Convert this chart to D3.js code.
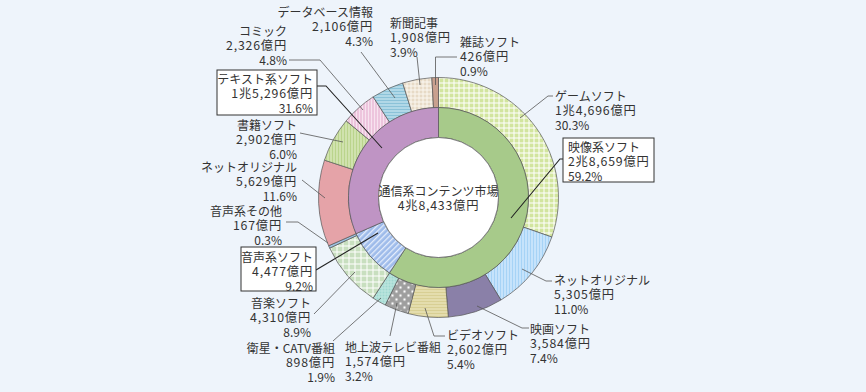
<!DOCTYPE html>
<html><head><meta charset="utf-8">
<script src="https://cdn.jsdelivr.net/npm/d3@7"></script>
<style>
html,body{margin:0;padding:0;background:#eef4fb;}
svg{display:block;}
text{font-family:"Noto Sans CJK JP","Noto Sans",sans-serif;font-size:12px;fill:#333;}
.num{font-size:12.3px;letter-spacing:0.8px;}
</style></head>
<body>
<svg id="c" width="866" height="392"></svg>
<script>
// ---- data ----
const innerNames = ["映像系ソフト", "音声系ソフト", "テキスト系ソフト"];
const innerValues = [28659, 4477, 15296];
const innerPct = [59.2, 9.2, 31.6];

const outerNames = ["ゲームソフト", "ネットオリジナル", "映画ソフト", "ビデオソフト", "地上波テレビ番組", "衛星・CATV番組",
  "音楽ソフト", "音声系その他",
  "ネットオリジナル", "書籍ソフト", "コミック", "データベース情報", "新聞記事", "雑誌ソフト"];
const outerValues = [14696, 5305, 3584, 2602, 1574, 898, 4310, 167, 5629, 2902, 2326, 2106, 1908, 426];
const outerPct = [30.3, 11.0, 7.4, 5.4, 3.2, 1.9, 8.9, 0.3, 11.6, 6.0, 4.8, 4.3, 3.9, 0.9];

const centerTitle = "通信系コンテンツ市場";
const totalValue = 48433;

// ---- styles / layout ----
const outerFills = ["url(#pGame)", "url(#pNetV)", "#8a80a8", "url(#pVideo)", "url(#pTerr)", "url(#pSat)",
  "url(#pMusic)", "#9ec3e3", "#e5a3a8", "url(#pBook)", "url(#pComic)", "url(#pDb)", "url(#pNews)", "#c9a08f"];
const innerFills = ["#a7ca8a", "url(#pAudio)", "#bf94c4"];

const outerLabelLayout = [
  {x:555, y:101, a:"start", pts:[[553,96],[548,96],[520,118]]},
  {x:554, y:285, a:"start", pts:[[552,281],[546,281],[522,269]]},
  {x:530, y:334, a:"start", pts:[[529,328],[522,328],[477,306]]},
  {x:447, y:340, a:"start", pts:[[445,336],[434,336],[425,308]]},
  {x:345, y:352, a:"start", pts:[[390,336],[397,303]]},
  {x:335, y:353, a:"end", pts:[[333,341],[381,298]]},
  {x:311, y:308, a:"end", pts:[[314,314],[355,272]]},
  {x:282, y:216, a:"end", pts:[[286,222],[298,222],[328,243]]},
  {x:297, y:172, a:"end", pts:[[302,180],[325,198]]},
  {x:297, y:130, a:"end", pts:[[300,133],[343,142]]},
  {x:287, y:36, a:"end", pts:[[289,60],[320,60],[363,110]]},
  {x:373, y:17, a:"end", pts:[[361,52],[395,98]]},
  {x:390, y:28, a:"start", pts:[[417,57],[420,85]]},
  {x:460, y:47, a:"start", pts:[[457,57],[435.5,57],[435.5,85]]}
];
const innerLabelLayout = [
  {box:[563,138,91,44], x:568, y:152, a:"start", pts:[[563,159],[560,159],[511,218]]},
  {box:[241,247,75,44], x:313, y:262, a:"end", pts:[[316,270],[378,233]]},
  {box:[217,70,100,45], x:313, y:84, a:"end", pts:[[317,86],[326,86],[382,148]]}
];

const cx = 438.5, cy = 197.5, R = 120, R1 = 90, R0 = 60, LH = 14.3;

const svg = d3.select("#c");
svg.append("rect").attr("width",866).attr("height",392).attr("fill","#eef4fb");

// ---- patterns ----
const defs = svg.append("defs");
function linePat(id, bg, color, size, dir, w) {
  const p = defs.append("pattern").attr("id", id).attr("patternUnits","userSpaceOnUse")
    .attr("width", size).attr("height", size);
  p.append("rect").attr("width", size).attr("height", size).attr("fill", bg);
  if (dir === "v" || dir === "grid") p.append("rect").attr("x",0).attr("y",0).attr("width",w).attr("height",size).attr("fill",color);
  if (dir === "h" || dir === "grid") p.append("rect").attr("x",0).attr("y",0).attr("width",size).attr("height",w).attr("fill",color);
  return p;
}
linePat("pGame", "#d2e59e", "#ffffff", 5, "grid", 1);
linePat("pNetV", "#a6d3f6", "#e6f3ff", 3, "v", 1);
linePat("pVideo", "#d8cf94", "#f0ebc6", 3, "h", 1);
linePat("pMusic", "#c8dfbf", "#ffffff", 6, "grid", 1);
linePat("pBook", "#bad48c", "#e6f0cf", 3, "v", 1);
linePat("pComic", "#f7e3ef", "#e3a7cb", 3, "v", 1);
linePat("pDb", "#8bc2d8", "#d7edf5", 3, "h", 1);
linePat("pNews", "#e7dac6", "#fbf7f0", 4, "grid", 1);
linePat("pSat", "#9fd8d0", "#bfe6e0", 3, "grid", 1);
{
  const p = defs.append("pattern").attr("id","pTerr").attr("patternUnits","userSpaceOnUse").attr("width",8).attr("height",8);
  p.append("rect").attr("width",8).attr("height",8).attr("fill","#9e9e9e");
  p.append("circle").attr("cx",2).attr("cy",2).attr("r",1.2).attr("fill","#fff");
  p.append("circle").attr("cx",6).attr("cy",6).attr("r",1.2).attr("fill","#fff");
}
{
  const p = defs.append("pattern").attr("id","pAudio").attr("patternUnits","userSpaceOnUse").attr("width",4).attr("height",4)
    .attr("patternTransform","rotate(45)");
  p.append("rect").attr("width",4).attr("height",4).attr("fill","#9ebbea");
  p.append("rect").attr("width",1.3).attr("height",4).attr("fill","#e4edfb");
}

const g = svg.append("g").attr("transform", `translate(${cx},${cy})`);

// ---- rings ----
const pie = d3.pie().sort(null).value(d => d).startAngle(0).endAngle(2*Math.PI);
const outerArc = d3.arc().innerRadius(R1).outerRadius(R);
const innerArc = d3.arc().innerRadius(R0).outerRadius(R1);

g.selectAll("path.outer").data(pie(outerValues)).join("path").attr("class","outer")
  .attr("d", outerArc).attr("fill", (d,i) => outerFills[i])
  .attr("stroke","#555").attr("stroke-width",0.7);
g.selectAll("path.inner").data(pie(innerValues)).join("path").attr("class","inner")
  .attr("d", innerArc).attr("fill", (d,i) => innerFills[i])
  .attr("stroke","#555").attr("stroke-width",0.7);
g.append("circle").attr("r", R0).attr("fill","#fff").attr("stroke","#555").attr("stroke-width",0.7);

// ---- formatting ----
const fmtN = d3.format(",");
function oku(v) {
  if (v >= 10000) return `${Math.floor(v/10000)}兆${fmtN(v % 10000)}億円`;
  return `${fmtN(v)}億円`;
}
function writeLines(t, x, y, lines) {
  lines.forEach((s, k) => {
    const row = t.append("tspan").attr("x", x).attr("y", y + k*LH).text(s);
    if (k === 1) row.attr("class", "num");
  });
}

const line = d3.line();
// outer labels
outerNames.forEach((name, i) => {
  const L = outerLabelLayout[i];
  svg.append("path").attr("d", line(L.pts)).attr("fill","none").attr("stroke","#555").attr("stroke-width",0.8);
  const t = svg.append("text").attr("text-anchor", L.a);
  writeLines(t, L.x, L.y, [name, oku(outerValues[i]), outerPct[i].toFixed(1) + "%"]);
});
// inner labels with boxes
innerNames.forEach((name, i) => {
  const L = innerLabelLayout[i];
  svg.append("path").attr("d", line(L.pts)).attr("fill","none").attr("stroke","#222").attr("stroke-width",1.1);
  svg.append("rect").attr("x", L.box[0]).attr("y", L.box[1]).attr("width", L.box[2]).attr("height", L.box[3])
    .attr("fill","#fff").attr("stroke","#333").attr("stroke-width",1);
  const t = svg.append("text").attr("text-anchor", L.a);
  writeLines(t, L.x, L.y, [name, oku(innerValues[i]), innerPct[i].toFixed(1) + "%"]);
});

// center
const ct = svg.append("text").attr("text-anchor","middle");
writeLines(ct, cx, 196, [centerTitle]);
svg.append("text").attr("text-anchor","middle").attr("class","num")
  .attr("x", cx).attr("y", 209.5).text(oku(totalValue));
</script>
</body></html>
